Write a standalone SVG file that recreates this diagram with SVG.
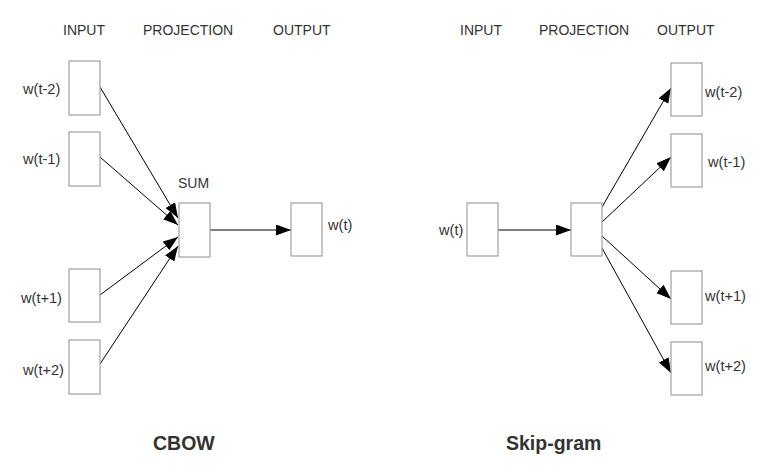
<svg xmlns="http://www.w3.org/2000/svg" width="760" height="474" viewBox="0 0 760 474">
<style>
.box{fill:#fff;stroke:#a0a0a0;stroke-width:1.2}
.t{font-family:"Liberation Sans",Arial,sans-serif;font-size:14px;fill:#333}
.w{font-size:14.6px}
.title{font-family:"Liberation Sans",Arial,sans-serif;font-size:19.5px;font-weight:bold;fill:#333}
.c{stroke:#000;stroke-width:1;fill:none;marker-end:url(#ah)}
</style>
<defs>
<marker id="ah" markerUnits="userSpaceOnUse" markerWidth="17" markerHeight="12" refX="15" refY="5.5" orient="auto">
<path d="M0,0 L15,5.5 L0,11 z" fill="#000"/>
</marker>
</defs>
<rect width="760" height="474" fill="#fff"/>
<g id="headers">
<text class="t" x="63" y="35">INPUT</text>
<text class="t" x="143" y="35">PROJECTION</text>
<text class="t" x="273" y="35">OUTPUT</text>
<text class="t" x="460" y="35">INPUT</text>
<text class="t" x="539" y="35">PROJECTION</text>
<text class="t" x="657" y="35">OUTPUT</text>
</g>
<g id="connectors">
<line class="c" x1="100" y1="87" x2="178" y2="218"/>
<line class="c" x1="100" y1="157" x2="178" y2="225"/>
<line class="c" x1="100" y1="295" x2="178" y2="237"/>
<line class="c" x1="100" y1="364" x2="178" y2="246"/>
<line class="c" x1="210" y1="230" x2="291" y2="230"/>
<line class="c" x1="498" y1="230" x2="571" y2="230"/>
<line class="c" x1="602" y1="207" x2="671" y2="88"/>
<line class="c" x1="602" y1="222" x2="671" y2="157"/>
<line class="c" x1="602" y1="236" x2="671" y2="299"/>
<line class="c" x1="602" y1="248" x2="671" y2="373"/>
</g>
<g id="cbow-in-t-2"><rect class="box" x="69" y="61" width="31" height="54"/><text class="t w" x="23" y="94">w(t-2)</text></g>
<g id="cbow-in-t-1"><rect class="box" x="69" y="132" width="31" height="54"/><text class="t w" x="23" y="164">w(t-1)</text></g>
<g id="cbow-in-t+1"><rect class="box" x="69" y="269" width="31" height="53"/><text class="t w" x="21" y="303">w(t+1)</text></g>
<g id="cbow-in-t+2"><rect class="box" x="69" y="340" width="31" height="54"/><text class="t w" x="23" y="375">w(t+2)</text></g>
<g id="cbow-proj"><rect class="box" x="179" y="203" width="31" height="54"/><text class="t" x="178" y="188">SUM</text></g>
<g id="cbow-out"><rect class="box" x="291" y="203" width="31" height="53"/><text class="t w" x="328" y="230">w(t)</text></g>
<g id="sg-in"><rect class="box" x="467" y="203" width="31" height="53"/><text class="t w" x="439" y="235">w(t)</text></g>
<g id="sg-proj"><rect class="box" x="571" y="203" width="31" height="53"/></g>
<g id="sg-out-t-2"><rect class="box" x="671" y="63" width="31" height="53"/><text class="t w" x="705" y="97">w(t-2)</text></g>
<g id="sg-out-t-1"><rect class="box" x="671" y="134" width="31" height="53"/><text class="t w" x="708" y="167">w(t-1)</text></g>
<g id="sg-out-t+1"><rect class="box" x="671" y="271" width="31" height="53"/><text class="t w" x="705" y="301">w(t+1)</text></g>
<g id="sg-out-t+2"><rect class="box" x="671" y="342" width="31" height="53"/><text class="t w" x="705" y="371">w(t+2)</text></g>
<g id="titles">
<text class="title" x="153" y="450">CBOW</text>
<text class="title" x="506" y="450">Skip-gram</text>
</g>
</svg>
